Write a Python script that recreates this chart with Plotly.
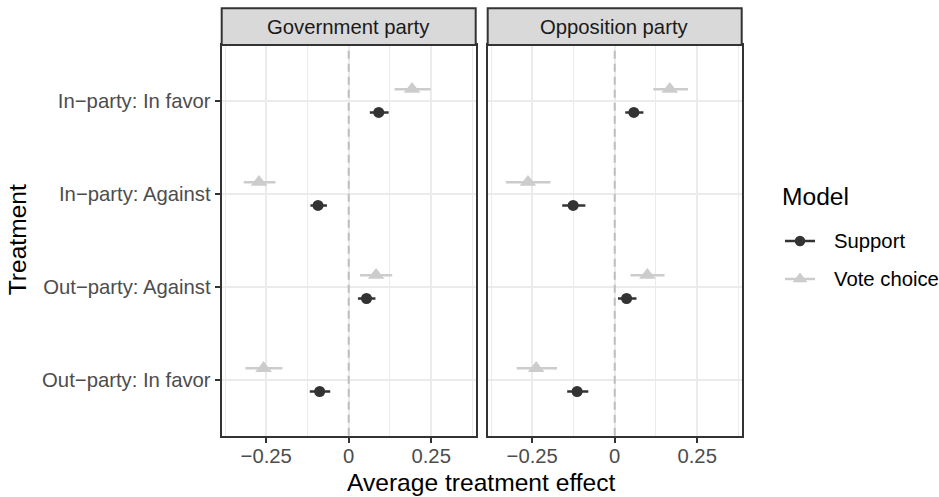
import plotly.graph_objects as go

# Treatment conditions, listed top to bottom
treatments = ["In\u2212party: In favor", "In\u2212party: Against",
              "Out\u2212party: Against", "Out\u2212party: In favor"]
panels = ["Government party", "Opposition party"]
models = ["Support", "Vote choice"]

# Average treatment effects with 95% intervals
gov_support_est = [0.091, -0.093, 0.054, -0.088]
gov_support_lo = [0.064, -0.116, 0.028, -0.118]
gov_support_hi = [0.121, -0.066, 0.081, -0.056]
gov_vote_est = [0.192, -0.272, 0.083, -0.258]
gov_vote_lo = [0.139, -0.318, 0.034, -0.313]
gov_vote_hi = [0.248, -0.222, 0.132, -0.201]

opp_support_est = [0.058, -0.126, 0.036, -0.114]
opp_support_lo = [0.032, -0.159, 0.010, -0.144]
opp_support_hi = [0.087, -0.089, 0.066, -0.080]
opp_vote_est = [0.167, -0.263, 0.099, -0.238]
opp_vote_lo = [0.117, -0.330, 0.048, -0.297]
opp_vote_hi = [0.222, -0.195, 0.151, -0.175]

x_ticks = [-0.25, 0, 0.25]
x_tick_text = ["\u22120.25", "0", "0.25"]

W, H = 939, 497
FONT = "Liberation Sans, Arial, Helvetica, sans-serif"
SMALL, LARGE = 20.3, 24.6
colors = {"Support": "#333333", "Vote choice": "#CCCCCC"}
symbols = {"Support": "circle", "Vote choice": "triangle-up"}
sizes = {"Support": 11, "Vote choice": 14.5}
dodge = {"Support": -0.125, "Vote choice": 0.125}

data = {
    ("Government party", "Support"): (gov_support_est, gov_support_lo, gov_support_hi),
    ("Government party", "Vote choice"): (gov_vote_est, gov_vote_lo, gov_vote_hi),
    ("Opposition party", "Support"): (opp_support_est, opp_support_lo, opp_support_hi),
    ("Opposition party", "Vote choice"): (opp_vote_est, opp_vote_lo, opp_vote_hi),
}

n = len(treatments)
ypos = [n - i for i in range(n)]  # top category gets the highest position


def px_x(p):
    return p / W


def px_y(p):
    return 1 - p / H


panel_top, panel_bot = 45.0, 435.7
strip_top = 8.3
x_domains = [(221.7, 475.7), (487.7, 741.7)]
x_range = [-0.385, 0.385]
y_range = [0.4, 4.6]

fig = go.Figure()

for pi, panel in enumerate(panels):
    xa = "x" if pi == 0 else "x2"
    ya = "y" if pi == 0 else "y2"
    # dashed reference line at zero
    fig.add_trace(go.Scatter(
        x=[0, 0], y=y_range, mode="lines", xaxis=xa, yaxis=ya,
        line=dict(color="#BEBEBE", width=2, dash="8px,5px"),
        showlegend=False, hoverinfo="skip"))
    for m in models:
        est, lo, hi = data[(panel, m)]
        ys = [y + dodge[m] for y in ypos]
        lx, ly = [], []
        for a, b, y in zip(lo, hi, ys):
            lx += [a, b, None]
            ly += [y, y, None]
        fig.add_trace(go.Scatter(
            x=lx, y=ly, mode="lines", xaxis=xa, yaxis=ya,
            line=dict(color=colors[m], width=2.5),
            showlegend=False, hoverinfo="skip"))
        fig.add_trace(go.Scatter(
            x=est, y=ys, mode="markers", xaxis=xa, yaxis=ya,
            marker=dict(color=colors[m], symbol=symbols[m], size=sizes[m],
                        line=dict(width=0)),
            showlegend=False, name=m))

# Legend keys, drawn on a small pixel-scaled axis beside the panels
leg_box = (770, 830, 220, 300)  # left, right, top, bottom in pixels
leg_key_x0, leg_key_x1 = 785, 815
leg_text_x = 832
leg_title_y = 196.5
leg_item_y = {"Support": 241, "Vote choice": 279}
leg_sizes = {"Support": 10.5, "Vote choice": 13}
for m in models:
    yk = leg_item_y[m]
    fig.add_trace(go.Scatter(
        x=[leg_key_x0, leg_key_x1], y=[yk, yk], mode="lines",
        xaxis="x3", yaxis="y3", line=dict(color=colors[m], width=2.5),
        showlegend=False, hoverinfo="skip"))
    fig.add_trace(go.Scatter(
        x=[(leg_key_x0 + leg_key_x1) / 2], y=[yk], mode="markers",
        xaxis="x3", yaxis="y3",
        marker=dict(color=colors[m], symbol=symbols[m], size=leg_sizes[m],
                    line=dict(width=0)),
        showlegend=False, hoverinfo="skip"))

axis_common = dict(
    showline=True, linecolor="#333333", linewidth=2, mirror=True,
    showgrid=True, gridcolor="#EBEBEB", gridwidth=2, zeroline=False,
)

for pi in range(2):
    d0, d1 = x_domains[pi]
    xkey = "xaxis" if pi == 0 else "xaxis2"
    ykey = "yaxis" if pi == 0 else "yaxis2"
    fig.layout[xkey] = dict(
        axis_common, domain=[px_x(d0), px_x(d1)], range=x_range,
        tickvals=x_ticks, ticktext=x_tick_text,
        ticks="outside", ticklen=5, tickwidth=2, tickcolor="#333333",
        ticklabelstandoff=-4,
        tickfont=dict(family=FONT, size=SMALL, color="#4D4D4D"),
        minor=dict(tickvals=[-0.375, -0.125, 0.125, 0.375], showgrid=True,
                   gridcolor="#EBEBEB", gridwidth=1, ticks=""),
        anchor="y" if pi == 0 else "y2",
    )
    fig.layout[ykey] = dict(
        axis_common, domain=[px_y(panel_bot), px_y(panel_top)], range=y_range,
        tickvals=ypos, ticktext=treatments,
        ticks="outside" if pi == 0 else "", ticklen=5, tickwidth=2,
        tickcolor="#333333", showticklabels=(pi == 0),
        tickfont=dict(family=FONT, size=SMALL, color="#4D4D4D"),
        anchor="x" if pi == 0 else "x2",
    )

lx0, lx1, ly0, ly1 = leg_box
fig.layout["xaxis3"] = dict(domain=[px_x(lx0), px_x(lx1)], range=[lx0, lx1],
                            visible=False, anchor="y3", fixedrange=True)
fig.layout["yaxis3"] = dict(domain=[px_y(ly1), px_y(ly0)], range=[ly1, ly0],
                            visible=False, anchor="x3", fixedrange=True)

shapes = []
annotations = []
for pi, panel in enumerate(panels):
    d0, d1 = x_domains[pi]
    shapes.append(dict(
        type="rect", xref="paper", yref="paper",
        x0=px_x(d0), x1=px_x(d1), y0=px_y(panel_top), y1=px_y(strip_top),
        fillcolor="#D9D9D9", line=dict(color="#333333", width=2), layer="above"))
    annotations.append(dict(
        text=panel, xref="paper", yref="paper",
        x=px_x((d0 + d1) / 2), y=px_y((panel_top + strip_top) / 2),
        xanchor="center", yanchor="middle", showarrow=False,
        font=dict(family=FONT, size=SMALL, color="#1A1A1A")))

annotations.append(dict(
    text="Average treatment effect", xref="paper", yref="paper",
    x=px_x((x_domains[0][0] + x_domains[1][1]) / 2), y=px_y(482),
    xanchor="center", yanchor="middle", showarrow=False,
    font=dict(family=FONT, size=LARGE, color="#000000")))
annotations.append(dict(
    text="Treatment", xref="paper", yref="paper",
    x=px_x(17), y=px_y((panel_top + panel_bot) / 2), textangle=-90,
    xanchor="center", yanchor="middle", showarrow=False,
    font=dict(family=FONT, size=LARGE, color="#000000")))

# Legend title and labels
annotations.append(dict(
    text="Model", xref="paper", yref="paper",
    x=px_x(780), y=px_y(leg_title_y), xanchor="left", yanchor="middle",
    showarrow=False, font=dict(family=FONT, size=LARGE, color="#000000")))
for m in models:
    annotations.append(dict(
        text=m, xref="paper", yref="paper",
        x=px_x(leg_text_x), y=px_y(leg_item_y[m]), xanchor="left",
        yanchor="middle", showarrow=False,
        font=dict(family=FONT, size=SMALL, color="#000000")))

fig.update_layout(
    width=W, height=H, margin=dict(l=0, r=0, t=0, b=0),
    paper_bgcolor="white", plot_bgcolor="rgba(0,0,0,0)",
    shapes=shapes, annotations=annotations,
    showlegend=False,
)

fig.write_html("out.html")
